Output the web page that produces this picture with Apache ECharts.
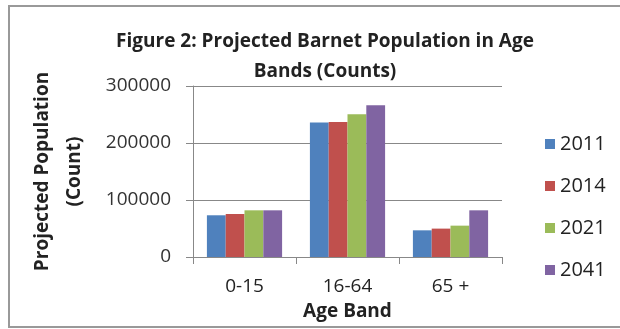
<!DOCTYPE html>
<html>
<head>
<meta charset="UTF-8">
<title>Projected Barnet Population</title>
<script src="https://cdn.jsdelivr.net/npm/echarts@6/dist/echarts.min.js"></script>
</head>
<body style="margin:0;background:#fff;">
<div id="container" style="width:620px;height:329px;"></div>
<script type="text/javascript">
var categories = ['0-15', '16-64', '65 +'];
var years = ['2011', '2014', '2021', '2041'];
var v2011 = [73200, 235800, 46800];
var v2014 = [75400, 236800, 49800];
var v2021 = [81900, 250300, 55000];
var v2041 = [81900, 266100, 81900];
var yTicks = [0, 100000, 200000, 300000];
var colors = ['#4F81BD', '#C0504D', '#9BBB59', '#8064A2'];

var myChart = echarts.init(document.getElementById('container'));
var font = 'Open Sans';
var allVals = [v2011, v2014, v2021, v2041];

var series = [];
for (var i = 0; i < years.length; i++) {
  series.push({
    name: years[i],
    type: 'bar',
    data: allVals[i],
    barGap: '0%',
    barCategoryGap: '27%',
    itemStyle: { color: colors[i] }
  });
}

var titleStyle = { fontSize: 19, fontWeight: 'bold', color: '#222', fontFamily: font };

var option = {
  animation: false,
  textStyle: { fontFamily: font },
  title: [
    { text: 'Figure 2: Projected Barnet Population in Age', left: 320, top: 27, textAlign: 'center', textStyle: titleStyle },
    { text: 'Bands (Counts)', left: 320, top: 57, textAlign: 'center', textStyle: titleStyle }
  ],
  legend: {
    data: years,
    orient: 'vertical',
    left: 540,
    top: 129,
    itemWidth: 10,
    itemHeight: 10,
    itemGap: 22,
    itemTextGap: 3,
    icon: 'rect',
    textStyle: { fontSize: 20, color: '#222', fontFamily: font }
  },
  grid: { left: 193, right: 118, top: 86, bottom: 72 },
  xAxis: {
    type: 'category',
    data: categories,
    name: 'Age Band',
    nameLocation: 'middle',
    nameGap: 45,
    nameTextStyle: { fontSize: 19, fontWeight: 'bold', color: '#222' },
    axisLine: { lineStyle: { color: '#888' } },
    axisTick: { show: true, length: 7, lineStyle: { color: '#888' } },
    axisLabel: { fontSize: 19, color: '#222', margin: 20 }
  },
  yAxis: {
    type: 'value',
    min: yTicks[0],
    max: yTicks[yTicks.length - 1],
    interval: 100000,
    name: 'Projected Population\n(Count)',
    nameLocation: 'middle',
    nameGap: 102,
    nameRotate: 90,
    nameTextStyle: { fontSize: 19, fontWeight: 'bold', color: '#222', lineHeight: 32 },
    axisLine: { show: true, lineStyle: { color: '#888' } },
    axisTick: { show: true, length: 7, lineStyle: { color: '#888' } },
    axisLabel: { fontSize: 19, color: '#333', margin: 22, formatter: function (v) { return String(v); } },
    splitLine: { lineStyle: { color: '#888' } }
  },
  graphic: [{
    type: 'rect',
    shape: { x: 9, y: 6, width: 620, height: 321 },
    style: { fill: 'none', stroke: '#999', lineWidth: 2 },
    silent: true
  }],
  series: series
};

myChart.setOption(option);
</script>
</body>
</html>
